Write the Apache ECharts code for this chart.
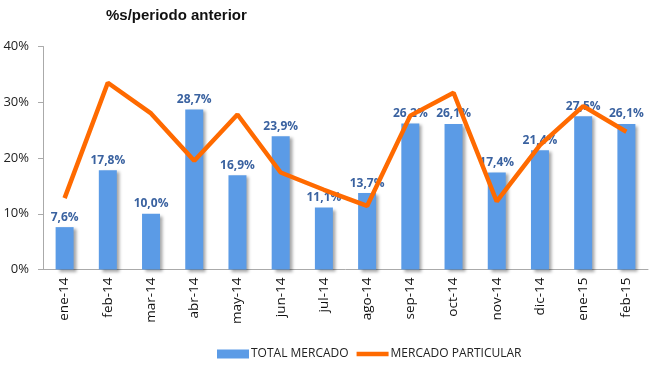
<!DOCTYPE html>
<html><head><meta charset="utf-8">
<script src="https://cdn.jsdelivr.net/npm/echarts@6/dist/echarts.min.js"></script>
<style>html,body{margin:0;padding:0;background:#fff}#c{width:650px;height:366px}</style>
</head><body><div id="c"></div>
<script>
var categories = ['ene-14','feb-14','mar-14','abr-14','may-14','jun-14','jul-14','ago-14','sep-14','oct-14','nov-14','dic-14','ene-15','feb-15'];
var totalMercado = [7.6,17.8,10.0,28.7,16.9,23.9,11.1,13.7,26.2,26.1,17.4,21.4,27.5,26.1];
var mercadoParticular = [12.8,33.5,28.0,19.5,27.8,17.4,14.3,11.4,27.6,31.7,12.2,22.3,29.3,24.7];
var yTicks = [0,10,20,30,40];

var chart = echarts.init(document.getElementById('c'));
chart.setOption({
  animation:false,
  title:{text:'%s/periodo anterior',left:101,top:3,textStyle:{fontFamily:'Liberation Sans',fontWeight:'bold',fontSize:15,color:'#111'}},
  legend:{top:343,left:212,itemGap:8,itemWidth:32,itemHeight:9,
    textStyle:{fontFamily:'Open Sans',fontSize:12,color:'#222',padding:[0,0,0,-3]},
    data:[{name:'TOTAL MERCADO',icon:'rect'},{name:'MERCADO PARTICULAR',icon:'path://M0,0 L32,0 L32,4.5 L0,4.5 Z',itemStyle:{color:'#FF6A00'}}]},
  grid:{left:43,right:2,top:46.5,bottom:96.5},
  xAxis:{type:'category',data:categories,
    axisLine:{lineStyle:{color:'#aaa'}},axisTick:{show:false},
    axisLabel:{rotate:90,fontFamily:'Open Sans',fontSize:13.5,color:'#111',margin:8}},
  yAxis:{type:'value',min:yTicks[0],max:yTicks[yTicks.length-1],interval:10,
    axisLine:{show:true,lineStyle:{color:'#aaa'}},axisTick:{show:true,length:5,lineStyle:{color:'#aaa'}},
    splitLine:{show:false},
    axisLabel:{formatter:function(v){return v+'%';},fontFamily:'Open Sans',fontSize:13,color:'#222',margin:14}},
  series:[
    {name:'TOTAL MERCADO',type:'bar',data:totalMercado,barWidth:18,
      itemStyle:{color:'#5B9BE6',shadowColor:'rgba(0,0,0,0.35)',shadowBlur:3,shadowOffsetX:3,shadowOffsetY:2},
      label:{show:true,position:'top',distance:4,formatter:function(p){return p.value.toFixed(1).replace('.',',')+'%';},
        fontFamily:'Open Sans',fontWeight:'bold',fontSize:12,color:'#3A62A0'}},
    {name:'MERCADO PARTICULAR',type:'line',data:mercadoParticular,symbol:'none',z:5,
      lineStyle:{color:'#FF6A00',width:4.5},itemStyle:{color:'#FF6A00'}}
  ]
});
</script></body></html>
